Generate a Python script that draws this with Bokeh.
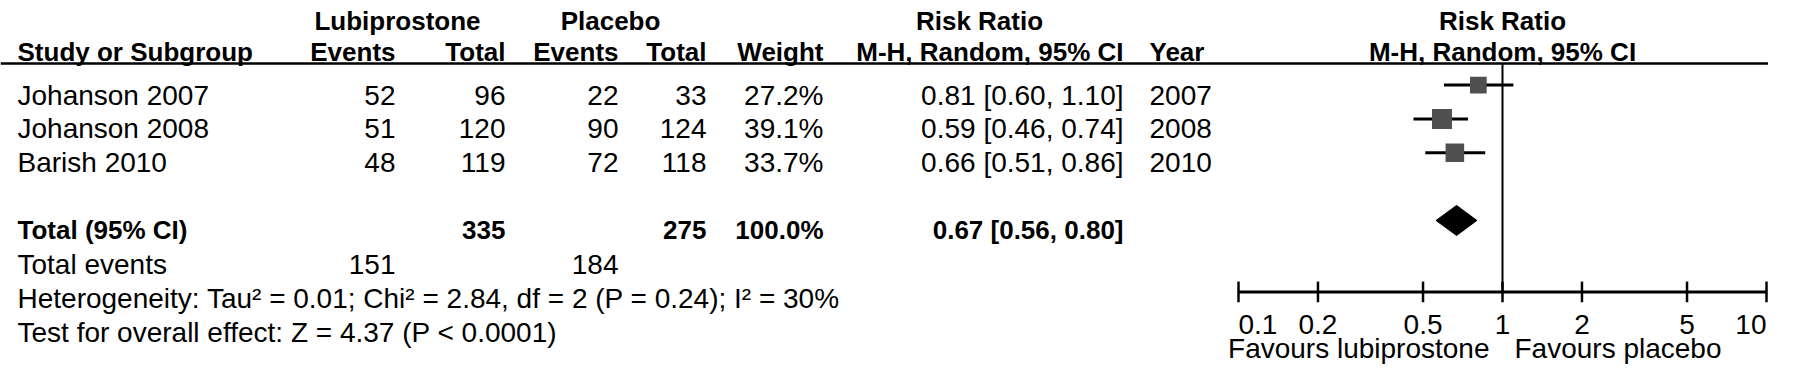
import math
from bokeh.plotting import figure
from bokeh.models import Range1d, LogScale, ColumnDataSource
from bokeh.core.properties import value
from bokeh.embed import file_html
from bokeh.resources import INLINE

# ---------------- data ----------------
studies = ["Johanson 2007", "Johanson 2008", "Barish 2010"]
lubi_events = [52, 51, 48]
lubi_total = [96, 120, 119]
plac_events = [22, 90, 72]
plac_total = [33, 124, 118]
weights = [27.2, 39.1, 33.7]
rr = [0.81, 0.59, 0.66]
rr_lo = [0.60, 0.46, 0.51]
rr_hi = [1.10, 0.74, 0.86]
years = [2007, 2008, 2010]

total_lubi = 335
total_plac = 275
total_weight = 100.0
pooled_rr = 0.67
pooled_lo = 0.56
pooled_hi = 0.80
total_events_lubi = 151
total_events_plac = 184
heterogeneity = "Heterogeneity: Tau\u00b2 = 0.01; Chi\u00b2 = 2.84, df = 2 (P = 0.24); I\u00b2 = 30%"
overall = "Test for overall effect: Z = 4.37 (P < 0.0001)"

tick_values = [0.1, 0.2, 0.5, 1, 2, 5, 10]
tick_labels = ["0.1", "0.2", "0.5", "1", "2", "5", "10"]
favours_left = "Favours lubiprostone"
favours_right = "Favours placebo"

# ---------------- layout (reference pixel frame, y slightly compressed to fit) ----------------
W, H = 1768, 366
OX = 8
Y_REF_TOP = 2
Y_SCALE = 0.94
X_STUDY, X_LE, X_LT, X_PE, X_PT, X_W, X_CI, X_YEAR = 25, 403, 513, 626, 714, 831, 1131, 1157
X_LUBI_HDR, X_PLAC_HDR, X_RR_HDR = 405, 618, 987
Y_H1, Y_H2, Y_LINE = 14, 47, 69
PITCH = 36
Y_ROW1 = 92
ROWS_Y = [Y_ROW1 + i * PITCH for i in range(3)]
Y_TOTAL, Y_TEV, Y_HET, Y_TEST = [Y_ROW1 + k * PITCH for k in (4, 5, 6, 7)]
Y_AXIS, Y_TICKLAB, Y_FAV = 312, 336, 362
PX_01, PX_10 = 1246, 1774
FS, FSB = 28, 26

p = figure(width=W, height=H, output_backend="svg", toolbar_location=None,
           x_range=Range1d(OX, OX + W), y_range=Range1d(Y_REF_TOP + H / Y_SCALE, Y_REF_TOP),
           x_axis_type=None, y_axis_type=None, min_border=0,
           outline_line_color=None)
p.background_fill_color = "white"
p.border_fill_color = "white"

dec = (PX_10 - PX_01) / 2.0
lo = -1 - (PX_01 - OX) / dec
hi = 1 + (OX + W - PX_10) / dec
p.extra_x_ranges = {"rr": Range1d(10 ** lo, 10 ** hi)}
p.extra_x_scales = {"rr": LogScale()}

FONT = value("Liberation Sans")


def txt(xs, ys, texts, align="left", bold=False, rng="default", x_offset=0):
    size = FSB if bold else FS
    cap = 0.716 * size
    src = ColumnDataSource(dict(x=list(xs), y=list(ys), t=[str(t) for t in texts]))
    p.text(x="x", y="y", text="t", source=src, text_font=FONT,
           text_font_size=f"{size}px", text_font_style="bold" if bold else "normal",
           text_align=align, text_baseline="alphabetic", text_color="black",
           x_range_name=rng, x_offset=x_offset, y_offset=cap / 2)


n = len(studies)
# headers
txt([X_LUBI_HDR, X_PLAC_HDR, X_RR_HDR], [Y_H1] * 3, ["Lubiprostone", "Placebo", "Risk Ratio"], "center", True)
txt([1], [Y_H1], ["Risk Ratio"], "center", True, "rr")
txt([X_STUDY, X_YEAR], [Y_H2] * 2, ["Study or Subgroup", "Year"], "left", True)
txt([X_LE, X_LT, X_PE, X_PT, X_W, X_CI], [Y_H2] * 6,
    ["Events", "Total", "Events", "Total", "Weight", "M-H, Random, 95% CI"], "right", True)
txt([1], [Y_H2], ["M-H, Random, 95% CI"], "center", True, "rr")

# study rows
txt([X_STUDY] * n, ROWS_Y, studies, "left")
txt([X_LE] * n, ROWS_Y, lubi_events, "right")
txt([X_LT] * n, ROWS_Y, lubi_total, "right")
txt([X_PE] * n, ROWS_Y, plac_events, "right")
txt([X_PT] * n, ROWS_Y, plac_total, "right")
txt([X_W] * n, ROWS_Y, [f"{w:.1f}%" for w in weights], "right")
txt([X_CI] * n, ROWS_Y, [f"{a:.2f} [{b:.2f}, {c:.2f}]" for a, b, c in zip(rr, rr_lo, rr_hi)], "right")
txt([X_YEAR] * n, ROWS_Y, years, "left")

# total rows
txt([X_STUDY], [Y_TOTAL], ["Total (95% CI)"], "left", True)
txt([X_LT, X_PT, X_W, X_CI], [Y_TOTAL] * 4,
    [total_lubi, total_plac, f"{total_weight:.1f}%",
     f"{pooled_rr:.2f} [{pooled_lo:.2f}, {pooled_hi:.2f}]"], "right", True)
txt([X_STUDY], [Y_TEV], ["Total events"], "left")
txt([X_LE, X_PE], [Y_TEV] * 2, [total_events_lubi, total_events_plac], "right")
txt([X_STUDY], [Y_HET], [heterogeneity], "left")
txt([X_STUDY], [Y_TEST], [overall], "left")

# header rule
p.segment(x0=[OX], x1=[OX + W], y0=[Y_LINE], y1=[Y_LINE], line_color="black", line_width=2.5)

# line of no effect
p.segment(x0=[1], x1=[1], y0=[Y_LINE], y1=[Y_AXIS], line_color="black", line_width=2, x_range_name="rr")

# CIs and squares
p.segment(x0=rr_lo, x1=rr_hi, y0=ROWS_Y, y1=ROWS_Y, line_color="black", line_width=3, x_range_name="rr")
p.scatter(x=rr, y=ROWS_Y, size=[3.2 * math.sqrt(w) for w in weights], marker="square",
          fill_color="#505050", line_color=None, x_range_name="rr")

# diamond
DH = 16
p.patch(x=[pooled_lo, pooled_rr, pooled_hi, pooled_rr],
        y=[Y_TOTAL, Y_TOTAL - DH, Y_TOTAL, Y_TOTAL + DH],
        fill_color="black", line_color="black", x_range_name="rr")

# axis
p.segment(x0=[tick_values[0]], x1=[tick_values[-1]], y0=[Y_AXIS], y1=[Y_AXIS],
          line_color="black", line_width=3, x_range_name="rr")
p.segment(x0=tick_values, x1=tick_values, y0=[Y_AXIS - 11] * len(tick_values),
          y1=[Y_AXIS + 11] * len(tick_values), line_color="black", line_width=2.5, x_range_name="rr")
txt(tick_values[:1], [Y_TICKLAB], tick_labels[:1], "left", False, "rr")
txt(tick_values[1:-1], [Y_TICKLAB] * (len(tick_values) - 2), tick_labels[1:-1], "center", False, "rr")
txt(tick_values[-1:], [Y_TICKLAB], tick_labels[-1:], "right", False, "rr")
txt([1], [Y_FAV], [favours_left], "right", False, "rr", x_offset=-13)
txt([1], [Y_FAV], [favours_right], "left", False, "rr", x_offset=12)

open("out.html", "w").write(file_html(p, INLINE))
